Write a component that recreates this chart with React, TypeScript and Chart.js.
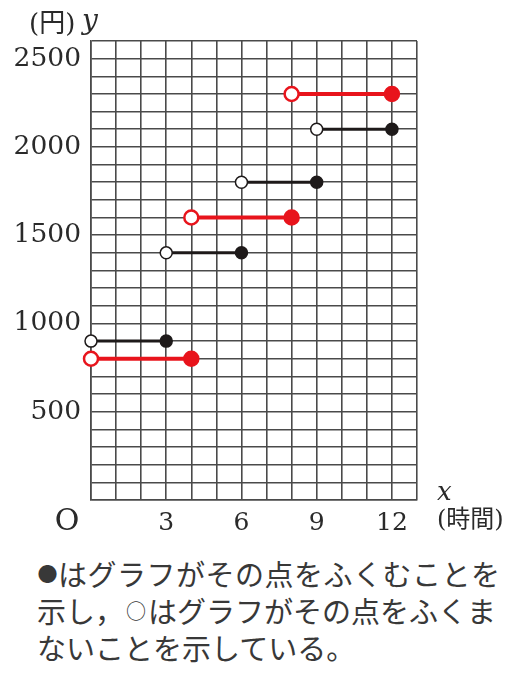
import React, { useEffect, useRef } from "react";
import { Chart, registerables } from "chart.js";

Chart.register(...registerables);

// Data
const blackStarts = [0, 3, 6, 9];
const blackEnds = [3, 6, 9, 12];
const blackValues = [900, 1400, 1800, 2100];

const redStarts = [0, 4, 8];
const redEnds = [4, 8, 12];
const redValues = [800, 1600, 2300];

const xTickLabels = [3, 6, 9, 12];
const yTickLabels = [500, 1000, 1500, 2000, 2500];

const BLACK = "#1e1a1a";
const RED = "#e8141c";

function segDatasets(starts: number[], ends: number[], values: number[], color: string, lw: number, r: number, bw: number) {
  return starts.map((s, i) => ({
    data: [
      { x: s, y: values[i] },
      { x: ends[i], y: values[i] },
    ],
    borderColor: color,
    borderWidth: lw,
    pointRadius: r,
    pointHoverRadius: r,
    pointBorderWidth: bw,
    pointBorderColor: color,
    pointBackgroundColor: ["#ffffff", color],
    showLine: true,
    fill: false,
    clip: false as any,
  }));
}

const labelsPlugin = {
  id: "axisLabels",
  afterDraw(chart: any) {
    const ctx = chart.ctx;
    const { left, bottom, right } = chart.chartArea;
    ctx.save();
    ctx.fillStyle = "#2a2a2a";
    // y unit
    ctx.textBaseline = "middle";
    ctx.textAlign = "left";
    ctx.font = '26px "DejaVu Serif", "Noto Sans CJK JP"';
    ctx.fillText("(円)", 29, 25);
    ctx.font = 'italic 28px "DejaVu Serif"';
    ctx.textBaseline = "alphabetic";
    ctx.fillText("y", 82, 29);
    // x label
    ctx.font = 'italic 26px "DejaVu Serif"';
    ctx.fillText("x", right + 20, bottom);
    ctx.textBaseline = "middle";
    ctx.font = '24px "DejaVu Serif", "Noto Sans CJK JP"';
    ctx.fillText("(時間)", right + 20, bottom + 21);
    // origin
    ctx.textAlign = "center";
    ctx.font = '30px "DejaVu Serif"';
    ctx.fillText("O", left - 24, bottom + 22);
    ctx.restore();
  },
};

const mark = (ch: string, w: number, size: number) => (
  <span
    style={{
      display: "inline-block",
      width: w,
      height: 37,
      lineHeight: "37px",
      fontSize: size,
      textAlign: "center",
      verticalAlign: "top",
      letterSpacing: 0,
    }}
  >
    {ch}
  </span>
);

export default function App() {
  const ref = useRef<HTMLCanvasElement | null>(null);
  useEffect(() => {
    if (!ref.current) return;
    const gridColor = "#4a4a4a";
    const chart = new Chart(ref.current, {
      type: "scatter",
      data: {
        datasets: [
          ...segDatasets(blackStarts, blackEnds, blackValues, BLACK, 3, 6, 1.5),
          ...segDatasets(redStarts, redEnds, redValues, RED, 4, 7, 2.5),
        ] as any,
      },
      options: {
        animation: false,
        responsive: false,
        events: [],
        layout: { padding: { left: 0, top: 41, right: 109, bottom: 0 } },
        plugins: { legend: { display: false }, tooltip: { enabled: false } },
        scales: {
          x: {
            type: "linear",
            min: 0,
            max: 13,
            afterFit: (s: any) => {
              s.height = 40;
            },
            grid: { color: gridColor, lineWidth: 1.6, drawTicks: false },
            border: { color: gridColor, width: 1.6 },
            ticks: {
              stepSize: 1,
              autoSkip: false,
              maxRotation: 0,
              padding: 8,
              color: "#2a2a2a",
              font: { family: "DejaVu Serif", size: 25 },
              callback: (v: any) => (xTickLabels.includes(Number(v)) ? String(v) : ""),
            },
          },
          y: {
            type: "linear",
            min: 0,
            max: 2600,
            afterFit: (s: any) => {
              s.width = 91;
            },
            grid: { color: gridColor, lineWidth: 1.6, drawTicks: false },
            border: { color: gridColor, width: 1.6 },
            ticks: {
              stepSize: 100,
              autoSkip: false,
              padding: 10,
              color: "#2a2a2a",
              font: { family: "DejaVu Serif", size: 26.5 },
              callback: (v: any) => (yTickLabels.includes(Number(v)) ? String(v) : ""),
            },
          },
        },
      },
      plugins: [labelsPlugin],
    });
    return () => chart.destroy();
  }, []);

  return (
    <div style={{ position: "absolute", left: 0, top: 0, width: 526, height: 675, background: "#fff" }}>
      <canvas ref={ref} width={526} height={540} style={{ position: "absolute", left: 0, top: 0 }} />
      <div
        style={{
          position: "absolute",
          left: 37,
          top: 555,
          fontFamily: '"Noto Sans CJK JP", sans-serif',
          fontSize: 29,
          lineHeight: "37px",
          color: "#383838",
          whiteSpace: "nowrap",
        }}
      >
        <div style={{ letterSpacing: 0.5 }}>
          {mark("●", 21, 20)}
          はグラフがその点をふくむことを
        </div>
        <div>
          示し，{mark("○", 24, 20)}はグラフがその点をふくま
        </div>
        <div>ないことを示している。</div>
      </div>
    </div>
  );
}
